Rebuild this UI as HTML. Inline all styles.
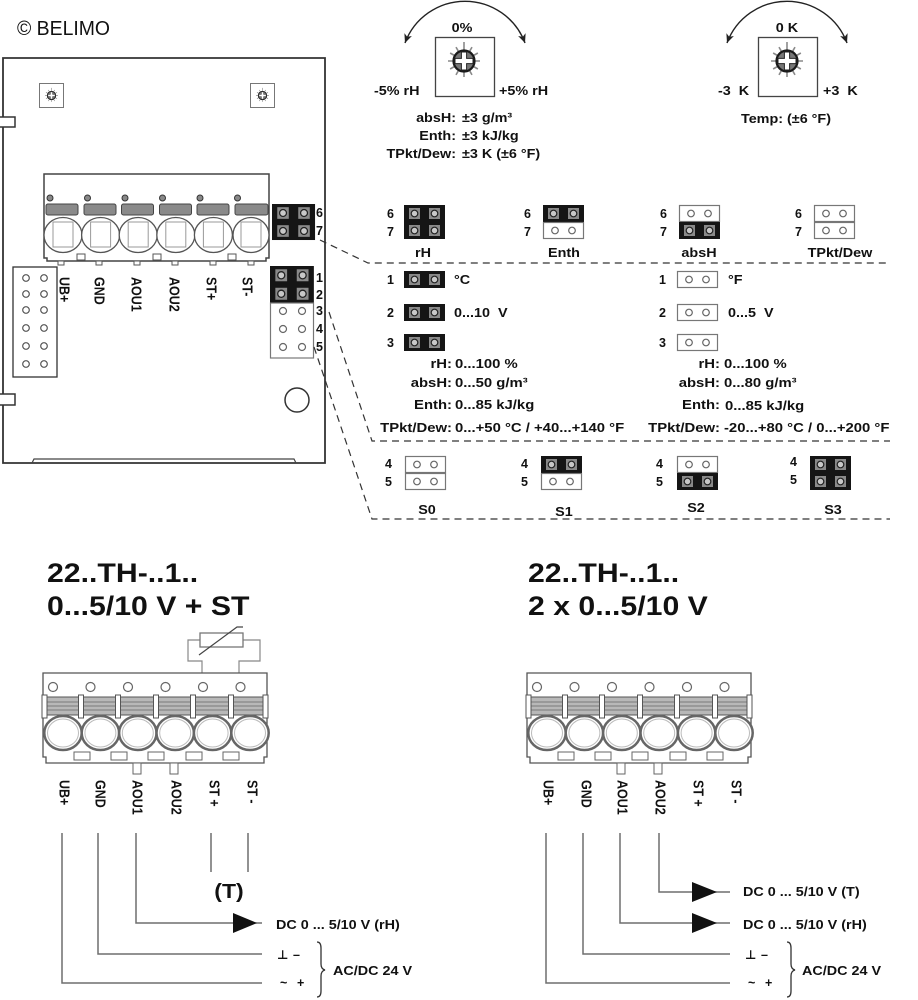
<!DOCTYPE html>
<html><head><meta charset="utf-8"><title>Belimo 22..TH wiring</title>
<style>
html,body{margin:0;padding:0;background:#fff;width:918px;height:1000px;overflow:hidden}
svg{display:block}
text{font-family:"Liberation Sans","DejaVu Sans",sans-serif;font-weight:bold;font-size:12.5px;fill:#111}
.s,.e,.m,.t,.rs,.re{transform-box:fill-box}
.s{transform-origin:0 50%;transform:scaleX(1.15)}
.e{text-anchor:end;transform-origin:100% 50%;transform:scaleX(1.15)}
.m{text-anchor:middle;transform-origin:50% 50%;transform:scaleX(1.15)}
.rs{transform-origin:0 50%;transform:scaleX(1.19)}
.re{text-anchor:end;transform-origin:100% 50%;transform:scaleX(1.19)}
.t{font-size:27px;transform-origin:0 50%;transform:scaleX(1.12)}
.w{fill:none;stroke:#6e6e6e;stroke-width:1.5}
.d{fill:none;stroke:#333;stroke-width:1.2;stroke-dasharray:7 5}
</style></head><body>
<svg width="918" height="1000" viewBox="0 0 918 1000" xmlns="http://www.w3.org/2000/svg">
<defs>
 <g id="jb">
  <rect x="0" y="0" width="41" height="17" fill="#151515"/>
  <rect x="5" y="3" width="11" height="11" fill="#8a8a8a"/>
  <rect x="25" y="3" width="11" height="11" fill="#8a8a8a"/>
  <circle cx="10.5" cy="8.5" r="3.3" fill="#c8c8c8" stroke="#222" stroke-width="1.2"/>
  <circle cx="30.5" cy="8.5" r="3.3" fill="#c8c8c8" stroke="#222" stroke-width="1.2"/>
 </g>
 <g id="jw">
  <rect x="0.5" y="0.5" width="40" height="16" fill="#fff" stroke="#777" stroke-width="1.2"/>
  <circle cx="12" cy="8.5" r="3.3" fill="#fff" stroke="#666" stroke-width="1.2"/>
  <circle cx="29" cy="8.5" r="3.3" fill="#fff" stroke="#666" stroke-width="1.2"/>
 </g>
 <g id="knob">
  <path d="M11.5 0H16M9.96 5.75L13.86 8M5.75 9.96L8 13.86M0 11.5V16M-5.75 9.96L-8 13.86M-9.96 5.75L-13.86 8M-11.5 0H-16M-9.96 -5.75L-13.86 -8M-5.75 -9.96L-8 -13.86M0 -11.5V-19M5.75 -9.96L8 -13.86M9.96 -5.75L13.86 -8" stroke="#8a8a8a" stroke-width="1.6" fill="none"/>
  <circle r="10.5" fill="#777" stroke="#1a1a1a" stroke-width="2.2"/>
  <path d="M-2.6,-9 H2.6 V-2.6 H9 V2.6 H2.6 V9 H-2.6 V2.6 H-9 V-2.6 H-2.6 Z" fill="#fff" stroke="#222" stroke-width="1"/>
 </g>
 <marker id="ar" markerWidth="10" markerHeight="10" refX="9" refY="5" orient="auto-start-reverse" markerUnits="userSpaceOnUse">
  <path d="M0,1 L9,5 L0,9 L2.5,5 Z" fill="#222"/>
 </marker>
 <g id="blk">
  <path d="M43,673 H267 V757 H264 V763 H46 V757 H43 Z" fill="#fff" stroke="#555" stroke-width="1.3"/>
  <circle cx="53" cy="687" r="4.5" fill="#fff" stroke="#666" stroke-width="1.2"/>
  <circle cx="90.5" cy="687" r="4.5" fill="#fff" stroke="#666" stroke-width="1.2"/>
  <circle cx="128" cy="687" r="4.5" fill="#fff" stroke="#666" stroke-width="1.2"/>
  <circle cx="165.5" cy="687" r="4.5" fill="#fff" stroke="#666" stroke-width="1.2"/>
  <circle cx="203" cy="687" r="4.5" fill="#fff" stroke="#666" stroke-width="1.2"/>
  <circle cx="240.5" cy="687" r="4.5" fill="#fff" stroke="#666" stroke-width="1.2"/>
  <rect x="44" y="697" width="222" height="18" fill="#b8b8b8" stroke="#555" stroke-width="1"/>
  <path d="M44,702 H266 M44,706 H266 M44,710 H266" stroke="#7a7a7a" stroke-width="1"/>
  <rect x="42" y="695" width="5" height="23" fill="#fff" stroke="#555"/>
  <rect x="78.5" y="695" width="5" height="23" fill="#fff" stroke="#555"/>
  <rect x="115.5" y="695" width="5" height="23" fill="#fff" stroke="#555"/>
  <rect x="153.5" y="695" width="5" height="23" fill="#fff" stroke="#555"/>
  <rect x="190.5" y="695" width="5" height="23" fill="#fff" stroke="#555"/>
  <rect x="228.5" y="695" width="5" height="23" fill="#fff" stroke="#555"/>
  <rect x="263" y="695" width="5" height="23" fill="#fff" stroke="#555"/>
  <rect x="74" y="752" width="16" height="8" fill="#fff" stroke="#666"/>
  <rect x="111" y="752" width="16" height="8" fill="#fff" stroke="#666"/>
  <rect x="148" y="752" width="16" height="8" fill="#fff" stroke="#666"/>
  <rect x="186" y="752" width="16" height="8" fill="#fff" stroke="#666"/>
  <rect x="223" y="752" width="16" height="8" fill="#fff" stroke="#666"/>
  <ellipse cx="63" cy="733" rx="18.7" ry="17" fill="#fff" stroke="#666" stroke-width="2.5"/>
  <ellipse cx="100.4" cy="733" rx="18.7" ry="17" fill="#fff" stroke="#666" stroke-width="2.5"/>
  <ellipse cx="137.8" cy="733" rx="18.7" ry="17" fill="#fff" stroke="#666" stroke-width="2.5"/>
  <ellipse cx="175.2" cy="733" rx="18.7" ry="17" fill="#fff" stroke="#666" stroke-width="2.5"/>
  <ellipse cx="212.6" cy="733" rx="18.7" ry="17" fill="#fff" stroke="#666" stroke-width="2.5"/>
  <ellipse cx="250" cy="733" rx="18.7" ry="17" fill="#fff" stroke="#666" stroke-width="2.5"/>
  <ellipse cx="63" cy="733" rx="15.5" ry="14" fill="none" stroke="#bbb"/>
  <ellipse cx="100.4" cy="733" rx="15.5" ry="14" fill="none" stroke="#bbb"/>
  <ellipse cx="137.8" cy="733" rx="15.5" ry="14" fill="none" stroke="#bbb"/>
  <ellipse cx="175.2" cy="733" rx="15.5" ry="14" fill="none" stroke="#bbb"/>
  <ellipse cx="212.6" cy="733" rx="15.5" ry="14" fill="none" stroke="#bbb"/>
  <ellipse cx="250" cy="733" rx="15.5" ry="14" fill="none" stroke="#bbb"/>
  <rect x="133" y="763" width="8" height="11" fill="#fff" stroke="#666"/>
  <rect x="170" y="763" width="8" height="11" fill="#fff" stroke="#666"/>
 </g>
</defs>

<!-- copyright -->
<text x="17" y="35" style="font-weight:normal;font-size:20px" textLength="93" lengthAdjust="spacingAndGlyphs">© BELIMO</text>

<!-- BOARD -->
<path d="M3,58 H325 V463 H3 Z" fill="#fff" stroke="#333" stroke-width="1.8"/>
<path d="M32,463 L34,459 H294 L296,463" fill="none" stroke="#444" stroke-width="1.2"/>
<rect x="0" y="117" width="15" height="10" fill="#fff"/>
<path d="M0,117 H15 V127 H0" fill="none" stroke="#333" stroke-width="1.5"/>
<rect x="0" y="394" width="15" height="11" fill="#fff"/>
<path d="M0,394 H15 V405 H0" fill="none" stroke="#333" stroke-width="1.5"/>

<rect x="39.5" y="83.5" width="24" height="24" fill="#fff" stroke="#777"/>
<use href="#knob" transform="translate(51.5,95.5) scale(0.4)"/>
<rect x="250.5" y="83.5" width="24" height="24" fill="#fff" stroke="#777"/>
<use href="#knob" transform="translate(262.5,95.5) scale(0.4)"/>

<!-- board terminal block -->
<path d="M44,174 H269 V258 H266 V261 H47 V258 H44 Z" fill="#fff" stroke="#444" stroke-width="1.5"/>
<g fill="#888" stroke="#333" stroke-width="1">
 <circle cx="50" cy="198" r="3"/><circle cx="87.5" cy="198" r="3"/><circle cx="125" cy="198" r="3"/>
 <circle cx="162.5" cy="198" r="3"/><circle cx="200" cy="198" r="3"/><circle cx="237.5" cy="198" r="3"/>
</g>
<g fill="#8a8a8a" stroke="#444" stroke-width="1">
 <rect x="46" y="204" width="32" height="11" rx="2"/><rect x="84" y="204" width="32" height="11" rx="2"/>
 <rect x="121.5" y="204" width="32" height="11" rx="2"/><rect x="159.5" y="204" width="32" height="11" rx="2"/>
 <rect x="197" y="204" width="32" height="11" rx="2"/><rect x="235" y="204" width="33" height="11" rx="2"/>
</g>
<g fill="#fff" stroke="#555" stroke-width="1.3">
 <ellipse cx="63" cy="235" rx="19" ry="17.5"/><ellipse cx="100.6" cy="235" rx="19" ry="17.5"/>
 <ellipse cx="138.2" cy="235" rx="19" ry="17.5"/><ellipse cx="175.8" cy="235" rx="19" ry="17.5"/>
 <ellipse cx="213.4" cy="235" rx="19" ry="17.5"/><ellipse cx="251" cy="235" rx="18" ry="17.5"/>
</g>
<g fill="none" stroke="#999" stroke-width="1">
 <rect x="53" y="222" width="20" height="25"/><rect x="90.6" y="222" width="20" height="25"/>
 <rect x="128.2" y="222" width="20" height="25"/><rect x="165.8" y="222" width="20" height="25"/>
 <rect x="203.4" y="222" width="20" height="25"/><rect x="241" y="222" width="20" height="25"/>
</g>
<g fill="#fff" stroke="#555" stroke-width="1">
 <rect x="77" y="254" width="8" height="6"/><rect x="153" y="254" width="8" height="6"/><rect x="228" y="254" width="8" height="6"/>
 <rect x="58" y="261" width="6" height="4"/><rect x="96" y="261" width="6" height="4"/><rect x="134" y="261" width="6" height="4"/>
 <rect x="172" y="261" width="6" height="4"/><rect x="210" y="261" width="6" height="4"/><rect x="248" y="261" width="6" height="4"/>
</g>

<!-- board jumper 6/7 -->
<use href="#jb" transform="translate(272,204) scale(1.05,1.06)"/>
<use href="#jb" transform="translate(272,222) scale(1.05,1.06)"/>
<text x="316" y="217">6</text>
<text x="316" y="235">7</text>

<!-- board labels -->
<g>
 <text transform="translate(65,277) scale(1.2,1) rotate(90)" x="0" y="4.5">UB+</text>
 <text transform="translate(100,277) scale(1.2,1) rotate(90)" x="0" y="4.5">GND</text>
 <text transform="translate(137,277) scale(1.2,1) rotate(90)" x="0" y="4.5">AOU1</text>
 <text transform="translate(175,277) scale(1.2,1) rotate(90)" x="0" y="4.5">AOU2</text>
 <text transform="translate(212,277) scale(1.2,1) rotate(90)" x="0" y="4.5">ST+</text>
 <text transform="translate(248,277) scale(1.2,1) rotate(90)" x="0" y="4.5">ST-</text>
</g>

<!-- left header -->
<rect x="13" y="267" width="44" height="110" fill="#fff" stroke="#333" stroke-width="1.3"/>
<g fill="#fff" stroke="#555" stroke-width="1.2">
 <circle cx="26" cy="278" r="3.3"/><circle cx="44" cy="278" r="3.3"/>
 <circle cx="26" cy="294" r="3.3"/><circle cx="44" cy="294" r="3.3"/>
 <circle cx="26" cy="310" r="3.3"/><circle cx="44" cy="310" r="3.3"/>
 <circle cx="26" cy="328" r="3.3"/><circle cx="44" cy="328" r="3.3"/>
 <circle cx="26" cy="346" r="3.3"/><circle cx="44" cy="346" r="3.3"/>
 <circle cx="26" cy="364" r="3.3"/><circle cx="44" cy="364" r="3.3"/>
</g>

<!-- board jumper 1-5 -->
<use href="#jb" transform="translate(270,266) scale(1.07,1.09)"/>
<use href="#jb" transform="translate(270,284.5) scale(1.07,1.09)"/>
<rect x="270.5" y="303" width="43" height="55" fill="#fff" stroke="#777" stroke-width="1.2"/>
<g fill="#fff" stroke="#666" stroke-width="1.2">
 <circle cx="283" cy="311" r="3.5"/><circle cx="302" cy="311" r="3.5"/>
 <circle cx="283" cy="329" r="3.5"/><circle cx="302" cy="329" r="3.5"/>
 <circle cx="283" cy="347" r="3.5"/><circle cx="302" cy="347" r="3.5"/>
</g>
<text x="316" y="282">1</text>
<text x="316" y="299">2</text>
<text x="316" y="315">3</text>
<text x="316" y="333">4</text>
<text x="316" y="351">5</text>

<circle cx="297" cy="400" r="12" fill="#fff" stroke="#333" stroke-width="1.5"/>

<!-- dashed connectors -->
<path class="d" d="M320,240 L368,263 H890"/>
<path class="d" d="M329,312 L372,441 H890"/>
<path class="d" d="M314,347 L372,519 H890"/>

<!-- POTENTIOMETER 1 -->
<path d="M405,43 A64,64 0 0 1 525,43" fill="none" stroke="#222" stroke-width="1.4" marker-start="url(#ar)" marker-end="url(#ar)"/>
<rect x="435.5" y="37.5" width="59" height="59" fill="#fff" stroke="#444" stroke-width="1.3"/>
<use href="#knob" transform="translate(464,61)"/>
<text class="m" x="462" y="32">0%</text>
<text class="s" x="374" y="95">-5% rH</text>
<text class="s" x="499" y="95">+5% rH</text>
<text class="e" x="456" y="122">absH:</text><text class="s" x="462" y="122">±3 g/m³</text>
<text class="e" x="456" y="140">Enth:</text><text class="s" x="462" y="140">±3 kJ/kg</text>
<text class="e" x="456" y="158">TPkt/Dew:</text><text class="s" x="462" y="158">±3 K (±6 °F)</text>

<!-- POTENTIOMETER 2 -->
<path d="M727,43 A64,64 0 0 1 847,43" fill="none" stroke="#222" stroke-width="1.4" marker-start="url(#ar)" marker-end="url(#ar)"/>
<rect x="758.5" y="37.5" width="59" height="59" fill="#fff" stroke="#444" stroke-width="1.3"/>
<use href="#knob" transform="translate(787,61)"/>
<text class="m" x="787" y="32">0&#160;K</text>
<text class="s" x="718" y="95">-3&#160; K</text>
<text class="s" x="823" y="95">+3&#160; K</text>
<text class="m" x="786" y="123">Temp: (±6 °F)</text>

<!-- ROW 6/7 -->
<text x="387" y="218">6</text><text x="387" y="236">7</text>
<use href="#jb" x="404" y="205"/><use href="#jb" x="404" y="222"/>
<text class="m" x="423" y="257">rH</text>

<text x="524" y="218">6</text><text x="524" y="236">7</text>
<use href="#jb" x="543" y="205"/><use href="#jw" x="543" y="222"/>
<text class="m" x="564" y="257">Enth</text>

<text x="660" y="218">6</text><text x="660" y="236">7</text>
<use href="#jw" x="679" y="205"/><use href="#jb" x="679" y="222"/>
<text class="m" x="699" y="257">absH</text>

<text x="795" y="218">6</text><text x="795" y="236">7</text>
<use href="#jw" x="814" y="205"/><use href="#jw" x="814" y="222"/>
<text class="m" x="840" y="257">TPkt/Dew</text>

<!-- ROWS 1-3 -->
<text x="387" y="284">1</text><use href="#jb" x="404" y="271"/><text class="s" x="454" y="284">°C</text>
<text x="387" y="317">2</text><use href="#jb" x="404" y="304"/><text class="s" x="454" y="317">0...10&#160; V</text>
<text x="387" y="347">3</text><use href="#jb" x="404" y="334"/>

<text x="659" y="284">1</text><use href="#jw" x="677" y="271"/><text class="s" x="728" y="284">°F</text>
<text x="659" y="317">2</text><use href="#jw" x="677" y="304"/><text class="s" x="728" y="317">0...5&#160; V</text>
<text x="659" y="347">3</text><use href="#jw" x="677" y="334"/>

<!-- RANGES -->
<text class="re" x="452" y="368">rH:</text><text class="rs" x="455" y="368">0...100 %</text>
<text class="re" x="452" y="387">absH:</text><text class="rs" x="455" y="387">0...50 g/m³</text>
<text class="re" x="452" y="409">Enth:</text><text class="rs" x="455" y="409">0...85 kJ/kg</text>
<text class="re" x="452" y="432">TPkt/Dew:</text><text class="rs" x="455" y="432">0...+50 °C / +40...+140 °F</text>

<text class="re" x="720" y="368">rH:</text><text class="rs" x="724" y="368">0...100 %</text>
<text class="re" x="720" y="387">absH:</text><text class="rs" x="724" y="387">0...80 g/m³</text>
<text class="re" x="720" y="409">Enth:</text><text class="rs" x="725" y="410">0...85 kJ/kg</text>
<text class="re" x="720" y="432">TPkt/Dew:</text><text class="rs" x="724" y="432">-20...+80 °C / 0...+200 °F</text>

<!-- S rows -->
<text x="385" y="468">4</text><text x="385" y="486">5</text>
<use href="#jw" x="405" y="456"/><use href="#jw" x="405" y="473"/>
<text class="m" x="427" y="514">S0</text>

<text x="521" y="468">4</text><text x="521" y="486">5</text>
<use href="#jb" x="541" y="456"/><use href="#jw" x="541" y="473"/>
<text class="m" x="564" y="516">S1</text>

<text x="656" y="468">4</text><text x="656" y="486">5</text>
<use href="#jw" x="677" y="456"/><use href="#jb" x="677" y="473"/>
<text class="m" x="696" y="512">S2</text>

<text x="790" y="466">4</text><text x="790" y="484">5</text>
<use href="#jb" x="810" y="456"/><use href="#jb" x="810" y="473"/>
<text class="m" x="833" y="514">S3</text>

<!-- BOTTOM LEFT -->
<text class="t" x="47" y="582">22..TH-..1..</text>
<text class="t" x="47" y="615">0...5/10 V + ST</text>

<!-- thermistor -->
<path d="M202,683 V661 H188 V640 H200 M243,640 H260 V661 H239 V683" fill="none" stroke="#888" stroke-width="1.2"/>
<rect x="200" y="633" width="43" height="14" fill="#fff" stroke="#777" stroke-width="1.3"/>
<path d="M199,655 L237,627 H243" fill="none" stroke="#444" stroke-width="1.2"/>

<use href="#blk"/>

<text transform="translate(65,780) scale(1.2,1) rotate(90)" x="0" y="4.5">UB+</text>
<text transform="translate(101,780) scale(1.2,1) rotate(90)" x="0" y="4.5">GND</text>
<text transform="translate(138,780) scale(1.2,1) rotate(90)" x="0" y="4.5">AOU1</text>
<text transform="translate(177,780) scale(1.2,1) rotate(90)" x="0" y="4.5">AOU2</text>
<text transform="translate(215,780) scale(1.2,1) rotate(90)" x="0" y="4.5">ST +</text>
<text transform="translate(253,780) scale(1.2,1) rotate(90)" x="0" y="4.5">ST -</text>

<path class="w" d="M62,833 V983 H262"/>
<path class="w" d="M98,833 V954 H262"/>
<path class="w" d="M136,833 V923 H262"/>
<path class="w" d="M211,833 V872"/>
<path class="w" d="M248,833 V872"/>
<polygon points="233,913 257,923 233,933" fill="#111"/>
<text class="m" x="229" y="898" style="font-size:20px">(T)</text>
<text class="s" x="276" y="929">DC 0 ... 5/10 V (rH)</text>
<text x="277" y="959">⊥</text><text x="293" y="959">–</text>
<text x="280" y="987">~</text><text x="297" y="987">+</text>
<path d="M317,942 Q321,942 321,948 V964 Q321,969 325,970 Q321,971 321,976 V991 Q321,997 317,997" fill="none" stroke="#333" stroke-width="1.3"/>
<text class="s" x="333" y="975">AC/DC 24 V</text>

<!-- BOTTOM RIGHT -->
<text class="t" x="528" y="582">22..TH-..1..</text>
<text class="t" x="528" y="615">2 x 0...5/10 V</text>

<use href="#blk" x="484"/>

<text transform="translate(549,780) scale(1.2,1) rotate(90)" x="0" y="4.5">UB+</text>
<text transform="translate(587,780) scale(1.2,1) rotate(90)" x="0" y="4.5">GND</text>
<text transform="translate(623,780) scale(1.2,1) rotate(90)" x="0" y="4.5">AOU1</text>
<text transform="translate(661,780) scale(1.2,1) rotate(90)" x="0" y="4.5">AOU2</text>
<text transform="translate(699,780) scale(1.2,1) rotate(90)" x="0" y="4.5">ST +</text>
<text transform="translate(737,780) scale(1.2,1) rotate(90)" x="0" y="4.5">ST -</text>

<path class="w" d="M546,833 V983 H730"/>
<path class="w" d="M583,833 V954 H730"/>
<path class="w" d="M620,833 V923 H730"/>
<path class="w" d="M659,833 V892 H730"/>
<polygon points="692,882 717,892 692,902" fill="#111"/>
<polygon points="692,913 717,923 692,933" fill="#111"/>
<text class="s" x="743" y="896">DC 0 ... 5/10 V (T)</text>
<text class="s" x="743" y="929">DC 0 ... 5/10 V (rH)</text>
<text x="745" y="959">⊥</text><text x="761" y="959">–</text>
<text x="748" y="987">~</text><text x="765" y="987">+</text>
<path d="M787,942 Q791,942 791,948 V964 Q791,969 795,970 Q791,971 791,976 V991 Q791,997 787,997" fill="none" stroke="#333" stroke-width="1.3"/>
<text class="s" x="802" y="975">AC/DC 24 V</text>
</svg>
</body></html>
